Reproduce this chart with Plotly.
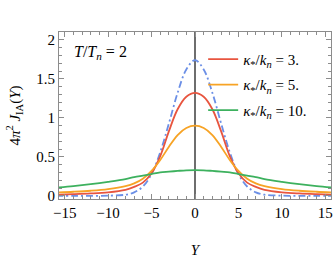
import plotly.graph_objects as go

# Y grid (symmetric curves)
y_half = [0, 1, 2, 3, 4, 5, 6, 7, 8, 10, 12, 14, 16]
blue_half = [1.74, 1.62, 1.32, 0.93, 0.56, 0.28, 0.12, 0.045, 0.015, 0.003, 0.0, 0.0, 0.0]
red_half = [1.32, 1.27, 1.11, 0.83, 0.51, 0.29, 0.17, 0.115, 0.078, 0.046, 0.031, 0.022, 0.016]
orange_half = [0.90, 0.87, 0.78, 0.63, 0.46, 0.32, 0.22, 0.16, 0.125, 0.087, 0.066, 0.053, 0.044]
green_half = [0.33, 0.328, 0.32, 0.31, 0.30, 0.28, 0.26, 0.24, 0.215, 0.18, 0.15, 0.125, 0.105]

legend_names = [
    "<i>κ</i><sub>*</sub>/<i>k</i><sub><i>n</i></sub> = 3.",
    "<i>κ</i><sub>*</sub>/<i>k</i><sub><i>n</i></sub> = 5.",
    "<i>κ</i><sub>*</sub>/<i>k</i><sub><i>n</i></sub> = 10.",
]
colors = ["#E8553F", "#F7A325", "#3DB15E"]
blue_color = "#6B8FE6"

xticks = [-15, -10, -5, 0, 5, 10, 15]
xtick_text = ["\u221215", "\u221210", "\u22125", "0", "5", "10", "15"]
yticks = [0, 0.5, 1, 1.5, 2]
ytick_text = ["0", "0.5", "1", "1.5", "2"]


def mirror(half):
    return half[:0:-1] + half


def mirror_x(half):
    return [-v for v in half[:0:-1]] + half


X = mirror_x(y_half)

fig = go.Figure()
fig.add_trace(go.Scatter(
    x=X, y=mirror(blue_half), mode="lines", showlegend=False,
    line=dict(color=blue_color, width=1.8, dash="7px,3px,2px,3px", shape="spline", smoothing=1.0),
))
for name, vals, col in zip(legend_names, [red_half, orange_half, green_half], colors):
    fig.add_trace(go.Scatter(
        x=X, y=mirror(vals), mode="lines", name=name, legendgroup=name,
        line=dict(color=col, width=1.8, shape="spline", smoothing=1.0),
    ))

font_family = "Liberation Serif, Times New Roman, serif"
axis_common = dict(
    showline=True, linecolor="#8c8c8c", linewidth=1, mirror="ticks",
    ticks="inside", ticklen=5, tickcolor="#8c8c8c", tickwidth=1,
    showgrid=False, automargin=False,
    tickfont=dict(family=font_family, size=15, color="black"),
)

fig.update_xaxes(
    range=[-15.65, 15.65], tickvals=xticks, ticktext=xtick_text,
    minor=dict(dtick=1, ticks="inside", ticklen=3, tickcolor="#8c8c8c", showgrid=False),
    zeroline=True, zerolinecolor="#6e6e6e", zerolinewidth=2,
    title=dict(text="<i>Y</i>", font=dict(family=font_family, size=15, color="black"), standoff=24),
    **axis_common,
)
fig.update_yaxes(
    range=[-0.04, 2.1], tickvals=yticks, ticktext=ytick_text,
    minor=dict(dtick=0.1, ticks="inside", ticklen=3, tickcolor="#8c8c8c", showgrid=False),
    zeroline=False,
    title=dict(text="4<i>π</i><sup>2</sup> <i>J</i><sub>IA</sub>(<i>Y</i>)",
               font=dict(family=font_family, size=15, color="black"), standoff=12),
    **axis_common,
)

fig.update_layout(
    width=335, height=264,
    margin=dict(l=59, r=4, t=32, b=65),
    paper_bgcolor="white", plot_bgcolor="white",
    font=dict(family=font_family, size=14, color="black"),
    legend=dict(
        x=0.53, y=0.935, xanchor="left", yanchor="top",
        bgcolor="rgba(0,0,0,0)", borderwidth=0,
        font=dict(family=font_family, size=15, color="black"),
        itemwidth=30, tracegroupgap=3,
    ),
    annotations=[dict(
        text="<i>T</i>/<i>T</i><sub><i>n</i></sub> = 2", xref="paper", yref="paper",
        x=0.048, y=0.875, xanchor="left", yanchor="middle", showarrow=False,
        font=dict(family=font_family, size=16, color="black"),
    )],
)

fig.write_html(
    "out.html",
    config={"displayModeBar": False},
    post_script="document.body.style.margin='0';document.body.style.overflow='hidden';",
)
